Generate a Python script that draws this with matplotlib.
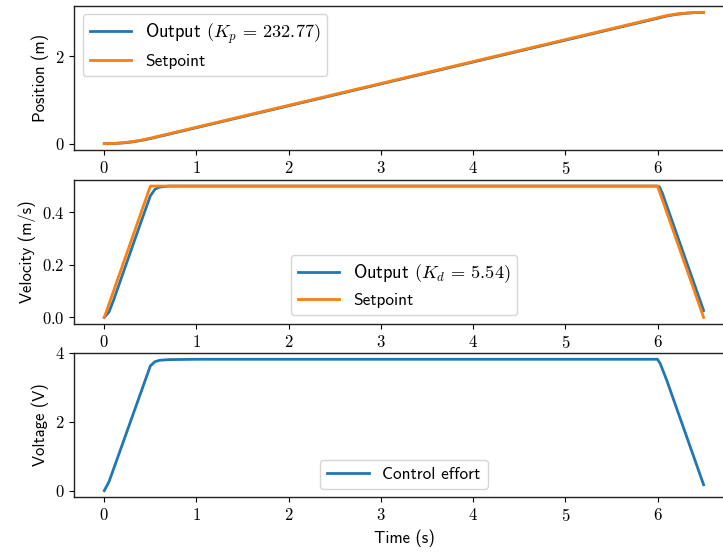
import os
import matplotlib
matplotlib.use("Agg")
import matplotlib.pyplot as plt
from matplotlib import font_manager

cmss = os.path.join(matplotlib.get_data_path(), 'fonts', 'ttf', 'cmss10.ttf')
families = ['DejaVu Sans']
if os.path.exists(cmss):
    font_manager.fontManager.addfont(cmss)
    families = [font_manager.FontProperties(fname=cmss).get_name(), 'DejaVu Sans']

plt.rcParams['mathtext.fontset'] = 'cm'
plt.rcParams['font.family'] = families
plt.rcParams['font.size'] = 12
plt.rcParams['axes.unicode_minus'] = False

# ---- data ----
pos_t = [0.0, 0.1, 0.2, 0.3, 0.4, 0.5, 6.0, 6.1, 6.2, 6.3, 6.4, 6.5]
pos_setpoint = [0.0, 0.005, 0.02, 0.045, 0.08, 0.125, 2.875, 2.925, 2.96, 2.98, 2.995, 3.0]
pos_output = [0.0, 0.003, 0.015, 0.038, 0.072, 0.115, 2.862, 2.914, 2.951, 2.975, 2.991, 2.997]

vel_sp_t = [0.0, 0.5, 6.0, 6.5]
vel_setpoint = [0.0, 0.5, 0.5, 0.0]
vel_out_t = [0.0, 0.05, 0.1, 0.2, 0.3, 0.4, 0.5, 0.55, 0.6, 0.7, 6.0, 6.02, 6.05, 6.1, 6.5]
vel_output = [0.0, 0.02, 0.065, 0.165, 0.265, 0.365, 0.463, 0.488, 0.496, 0.5, 0.5, 0.497, 0.475, 0.425, 0.026]

volt_t = [0.0, 0.05, 0.1, 0.2, 0.3, 0.4, 0.5, 0.55, 0.6, 0.7, 1.0, 6.0, 6.03, 6.1, 6.5]
voltage = [0.0, 0.25, 0.62, 1.37, 2.12, 2.87, 3.62, 3.74, 3.78, 3.80, 3.81, 3.81, 3.68, 3.2, 0.17]

kp_label = r'Output $(K_p \,=\, 232.77)$'
kd_label = r'Output $(K_d \,=\, 5.54)$'

x_ticks = [0, 1, 2, 3, 4, 5, 6]
pos_ticks = [0, 2]
vel_ticks = [0.0, 0.2, 0.4]
volt_ticks = [0, 2, 4]

fig = plt.figure(figsize=(7.23, 5.56), dpi=100)
W, H = 723.0, 556.0
left = 74.3 / W
width = 659.3 / W
tops = [5.7, 179.5, 352.7]
hgt = 144.5
axes = [fig.add_axes([left, 1 - (t + hgt) / H, width, hgt / H]) for t in tops]

blue = '#1f77b4'
orange = '#ff7f0e'
leg_kw = dict(handlelength=2.4, fontsize=12.4)

ax = axes[0]
ax.plot(pos_t, pos_output, color=blue, lw=2, label=kp_label)
ax.plot(pos_t, pos_setpoint, color=orange, lw=2, label='Setpoint')
ax.set_ylabel('Position (m)')
ax.set_yticks(pos_ticks)
ax.set_yticklabels([f'${v}$' for v in pos_ticks])
leg = ax.legend(loc='upper left', **leg_kw)
leg.get_texts()[0].set_fontsize(13.2)

ax = axes[1]
ax.plot(vel_out_t, vel_output, color=blue, lw=2, label=kd_label)
ax.plot(vel_sp_t, vel_setpoint, color=orange, lw=2, label='Setpoint')
ax.set_ylabel('Velocity (m/s)')
ax.set_yticks(vel_ticks)
ax.set_yticklabels([f'${v:.1f}$' for v in vel_ticks])
leg = ax.legend(loc='lower center', **leg_kw)
leg.get_texts()[0].set_fontsize(13.2)

ax = axes[2]
ax.plot(volt_t, voltage, color=blue, lw=2, label='Control effort')
ax.set_ylabel('Voltage (V)')
ax.set_yticks(volt_ticks)
ax.set_yticklabels([f'${v}$' for v in volt_ticks])
ax.set_xlabel('Time (s)')
ax.legend(loc='lower center', **leg_kw)

for ax in axes:
    ax.set_xlim(-0.325, 6.825)
    ax.set_xticks(x_ticks)
    ax.set_xticklabels([f'${v}$' for v in x_ticks])
    for s in ax.spines.values():
        s.set_color('#222222')
        s.set_linewidth(1.0)

fig.savefig('out.png', dpi=100)
